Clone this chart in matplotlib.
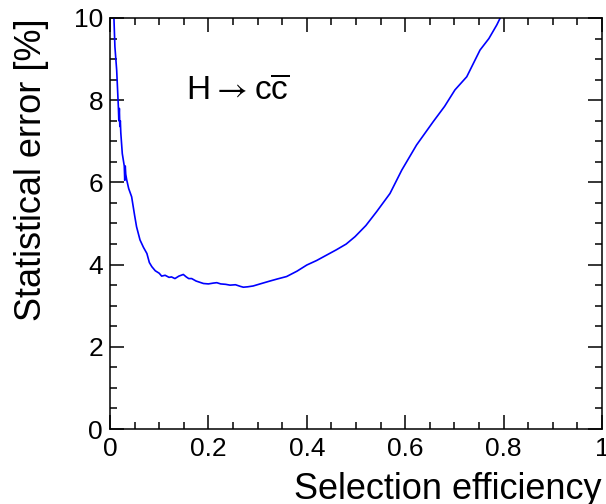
import matplotlib as mpl
mpl.use('Agg')
import matplotlib.pyplot as plt
from matplotlib.ticker import MultipleLocator, FixedLocator

plt.rcParams['font.family'] = ['Liberation Sans', 'DejaVu Sans']
plt.rcParams['mathtext.fontset'] = 'custom'
plt.rcParams['mathtext.rm'] = 'Liberation Sans'
plt.rcParams['mathtext.sf'] = 'STIXGeneral'

# selection efficiency vs statistical error
eff = [0.008, 0.010, 0.0136, 0.016, 0.017, 0.018, 0.019, 0.020, 0.021, 0.022,
       0.025, 0.027, 0.029, 0.030, 0.031, 0.032, 0.034, 0.038, 0.044, 0.050,
       0.054, 0.061, 0.068, 0.075, 0.080, 0.085, 0.092, 0.100, 0.105, 0.112,
       0.120, 0.125, 0.132, 0.140, 0.149, 0.155, 0.160, 0.166, 0.175, 0.190,
       0.200, 0.210, 0.217, 0.225, 0.235, 0.244, 0.255, 0.265, 0.271, 0.280,
       0.291, 0.305, 0.325, 0.340, 0.359, 0.380, 0.400, 0.420, 0.440, 0.460,
       0.480, 0.498, 0.520, 0.542, 0.569, 0.593, 0.623, 0.657, 0.680, 0.701,
       0.725, 0.752, 0.770, 0.786, 0.793]
err = [10.0, 9.3, 8.73, 8.1, 7.84, 7.5, 7.8, 7.36, 7.5, 7.2,
       6.7, 6.55, 6.4, 6.05, 6.4, 6.2, 6.06, 5.85, 5.65, 5.2,
       4.92, 4.6, 4.42, 4.27, 4.05, 3.95, 3.85, 3.79, 3.72, 3.74,
       3.69, 3.70, 3.66, 3.72, 3.76, 3.70, 3.66, 3.66, 3.60, 3.54,
       3.53, 3.55, 3.56, 3.53, 3.52, 3.50, 3.51, 3.47, 3.45, 3.46,
       3.48, 3.53, 3.60, 3.65, 3.71, 3.84, 3.99, 4.10, 4.23, 4.36,
       4.50, 4.68, 4.95, 5.29, 5.73, 6.30, 6.91, 7.48, 7.85, 8.25,
       8.57, 9.22, 9.50, 9.83, 10.0]
xticks = [0, 0.2, 0.4, 0.6, 0.8, 1.0]
xticklabels = ['0', '0.2', '0.4', '0.6', '0.8', '1']

fig = plt.figure(figsize=(6.06, 5.04), dpi=100)
ax = fig.add_axes([0.1815, 0.1488, 0.812, 0.8155])

ax.plot(eff, err, color='#0000ff', lw=1.2)

ax.set_xlim(0, 1)
ax.set_ylim(0, 10)
ax.xaxis.set_major_locator(FixedLocator(xticks))
ax.set_xticklabels(xticklabels)
ax.xaxis.set_minor_locator(MultipleLocator(0.05))
ax.yaxis.set_major_locator(MultipleLocator(2))
ax.yaxis.set_minor_locator(MultipleLocator(0.5))

ax.tick_params(which='both', direction='in', top=True, right=True, width=1.1, labelsize=19)
ax.tick_params(which='major', length=10)
ax.tick_params(which='minor', length=5)
ax.tick_params(axis='x', pad=6)
ax.tick_params(axis='y', pad=5)
for s in ax.spines.values():
    s.set_linewidth(1.1)

ax.set_xlabel('Selection efficiency', fontsize=26, loc='right', labelpad=8)
ax.set_ylabel('Statistical error [%]', fontsize=26, loc='top', labelpad=18)

ax.text(0.155, 8.0, r'$\mathrm{H}\mathsf{\rightarrow}\mathrm{c\overline{c}}$', fontsize=24, va='baseline')

plt.savefig('out.png', dpi=100)
